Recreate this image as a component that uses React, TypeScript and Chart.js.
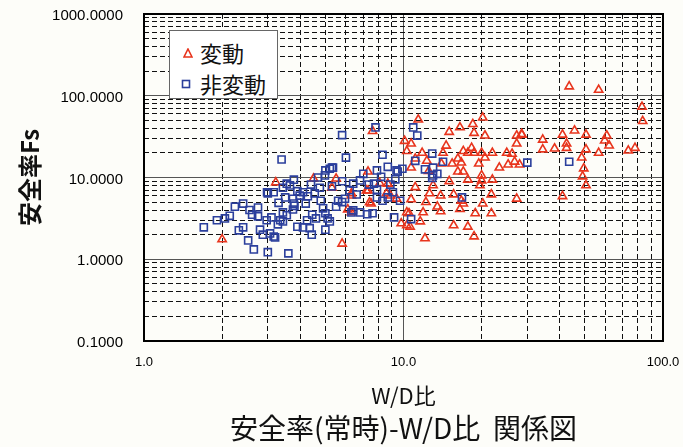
import React, { useEffect, useRef } from 'react';
import { Chart, registerables } from 'chart.js';

Chart.register(...registerables);

const seriesNames = ['変動', '非変動'];

// 変動 (red triangles)
const redX = [2.0, 3.22, 4.5, 5.5, 7.3, 6.3, 5.8, 8.7, 9.8, 10.3, 6.1, 7.4, 8.6, 7.2, 7.6, 11.4, 10.1, 10.7, 15, 16.5, 18.5, 20.2, 18.7, 20.6, 27.3, 28.5, 27.3, 11.8, 12.3, 14.2, 14.6, 17, 17.7, 18.3, 18.7, 20, 20.6, 22, 25, 26.2, 26.8, 28, 25.3, 23.4, 19.5, 16.7, 16.2, 15.4, 16.2, 17, 17.7, 20, 20, 22, 19.7, 14, 11.1, 10.7, 11.1, 12.6, 13.9, 15.6, 10.7, 12.2, 13.5, 13.9, 16.5, 17, 16.7, 18.9, 20.2, 21.8, 21.8, 27.3, 10.5, 11.9, 11.6, 10.6, 15.6, 17.7, 18.7, 12.1, 43.5, 56.5, 83, 83.5, 28.6, 34.4, 34.4, 38.2, 41, 42.5, 42.5, 45.6, 50.5, 50.5, 56.5, 48.6, 49.5, 49, 50.5, 60.7, 59.6, 62, 73.5, 78, 41, 10.3, 6.3, 6.3, 7.3, 7.5, 8.9, 9.4, 10.3, 5.3, 8.1, 12.5, 15.0, 13.0];
const redY = [1.75, 8.7, 9.7, 9.7, 11.8, 6.4, 1.55, 8.4, 2.75, 2.6, 4.06, 4.96, 6.4, 6.9, 37, 51, 28, 26, 36, 41, 45, 54, 35, 32.6, 32.6, 34, 26, 20, 16, 20, 24.5, 21, 20, 23, 20, 20, 17.5, 20, 20, 19.5, 15.6, 14.4, 14.4, 13.2, 14.8, 15.2, 17, 14.8, 11.8, 11.8, 9.4, 10.6, 9.2, 9.4, 8, 14.8, 17, 13.2, 7.6, 6.4, 6.0, 6.2, 5.4, 5.0, 4.4, 3.85, 4.1, 4.8, 5.2, 3.65, 4.8, 6.2, 3.65, 5.5, 3.65, 3.74, 2.9, 2.5, 2.6, 2.5, 1.9, 1.8, 130, 118, 73, 49, 33.4, 29, 22, 22.6, 33.4, 26, 23, 37.5, 33.4, 22, 20, 17.5, 12.9, 10.3, 8, 32.6, 28.3, 24.6, 21.3, 23, 5.9, 21, 6, 3.75, 6.9, 4.8, 6.0, 5.5, 3.74, 7.5, 8.5, 12.0, 9.0, 8.0];

// 非変動 (blue squares)
const blueX = [1.70, 1.91, 2.05, 2.14, 2.24, 2.41, 2.75, 2.61, 2.75, 2.32, 2.41, 2.52, 2.65, 3.0, 3.6, 2.8, 2.87, 3.06, 3.16, 3.1, 3.28, 3.43, 3.43, 3.55, 3.75, 3.78, 3.75, 3.5, 3.0, 3.16, 3.43, 3.55, 3.78, 3.9, 3.98, 4.1, 4.28, 4.55, 4.76, 4.68, 4.98, 5.2, 5.35, 5.3, 4.9, 5.0, 5.1, 5.2, 4.6, 4.25, 3.9, 4.1, 4.35, 4.43, 5.0, 5.8, 5.6, 5.95, 6.2, 6.4, 6.8, 7.0, 7.35, 7.7, 7.9, 7.9, 7.6, 7.25, 6.8, 6.4, 6.3, 7.9, 8.7, 9.4, 9.9, 8.9, 9.1, 9.2, 9.7, 8.3, 8.7, 2.97, 3.39, 6.0, 8.3, 5.8, 7.8, 10.9, 11.3, 12.9, 11.1, 14.2, 12.1, 13.0, 13.5, 12.9, 13.0, 16.8, 10.7, 30, 43.5, 2.98, 3.65, 3.8, 3.35, 3.2, 5.3, 5.0, 9.5, 3.3, 4.4, 4.2, 5.5, 6.6, 4.8, 2.55, 9.3, 8.2, 5.8, 4.45];
const blueY = [2.46, 3.0, 3.16, 3.4, 4.4, 4.8, 4.3, 3.5, 3.35, 2.26, 2.46, 1.7, 1.32, 1.22, 1.18, 2.3, 2.0, 2.07, 1.9, 3.25, 2.67, 2.9, 3.74, 3.45, 4.06, 4.8, 5.5, 5.7, 6.4, 6.6, 7.5, 8.4, 9.4, 6.8, 6.0, 6.6, 5.9, 6.4, 7.5, 10, 10.6, 12.8, 13.2, 7.8, 4.2, 3.65, 3.16, 2.9, 3.16, 3.0, 2.5, 2.45, 2.4, 2.0, 2.3, 5.0, 5.2, 5.5, 7.0, 8.4, 9.2, 11.1, 8.2, 8.4, 7.1, 5.7, 3.65, 3.55, 3.74, 3.96, 3.74, 12.2, 13.5, 12.2, 12.8, 8.2, 6.6, 3.25, 5.2, 5.2, 5.7, 3.0, 16.6, 17.5, 19, 33, 41, 41, 32.6, 19.6, 16, 15.6, 12.6, 13.2, 11.1, 9.9, 10.6, 5.7, 3.1, 15.2, 15.6, 6.6, 8, 4.5, 3.0, 1.85, 13.2, 12.2, 11.8, 4.9, 8.2, 4.8, 4.4, 6.2, 5.2, 4.0, 9.5, 10.2, 9.0, 3.5];

const xMajorTicks = [1, 10, 100];
const xTickLabels = ['1.0', '10.0', '100.0'];
const xMinorTicks = [2, 3, 4, 5, 6, 7, 8, 9, 20, 30, 40, 50, 60, 70, 80, 90];

const yMajorTicks = [0.1, 1, 10, 100, 1000];
const yTickLabels = ['0.1000', '1.0000', '10.0000', '100.0000', '1000.0000'];
const yMinorTicks = [0.2, 0.3, 0.4, 0.5, 0.6, 0.7, 0.8, 0.9, 2, 3, 4, 5, 6, 7, 8, 9, 20, 30, 40, 50, 60, 70, 80, 90, 200, 300, 400, 500, 600, 700, 800, 900];

const xTitle = 'W/D比';
const yTitle = '安全率Fs';
const chartTitle = '安全率(常時)-W/D比  関係図';

const RED = '#e8341c';
const BLUE = '#2b3f9c';
const JP = '"Noto Sans CJK JP", "Noto Sans", sans-serif';
const LAT = '"Liberation Sans", Arial, sans-serif';

const buildTicks = (majors: number[], minors: number[]) =>
  [...majors.map((v) => ({ value: v, major: true })), ...minors.map((v) => ({ value: v, major: false }))].sort(
    (a, b) => a.value - b.value
  );

const clearPadding = (s: any) => {
  s.paddingTop = 0;
  s.paddingBottom = 0;
  s.paddingLeft = 0;
  s.paddingRight = 0;
};

const framePlugin = {
  id: 'frame',
  beforeDatasetsDraw(chart: any) {
    const { ctx, chartArea } = chart;
    ctx.save();
    ctx.strokeStyle = '#000';
    ctx.lineWidth = 2;
    ctx.strokeRect(chartArea.left, chartArea.top, chartArea.right - chartArea.left, chartArea.bottom - chartArea.top);
    ctx.restore();
  },
};

export default function App() {
  const ref = useRef<HTMLCanvasElement>(null);

  useEffect(() => {
    if (!ref.current) return;
    const gridColor = (c: any) => (c.tick && c.tick.major ? '#555' : '#111');
    const gridDash = (c: any) => (c.tick && !c.tick.major ? [5, 3] : []);
    const chart = new Chart(ref.current, {
      type: 'scatter',
      data: {
        datasets: [
          {
            label: seriesNames[1],
            data: blueX.map((x, i) => ({ x, y: blueY[i] })),
            pointStyle: 'rect',
            pointRadius: 5,
            borderColor: BLUE,
            backgroundColor: 'rgba(255,255,255,0)',
            borderWidth: 1.6,
          },
          {
            label: seriesNames[0],
            data: redX.map((x, i) => ({ x, y: redY[i] })),
            pointStyle: 'triangle',
            pointRadius: 4.8,
            borderColor: RED,
            backgroundColor: 'rgba(255,255,255,0)',
            borderWidth: 1.6,
          },
        ],
      },
      options: {
        animation: false,
        responsive: false,
        maintainAspectRatio: false,
        layout: { padding: { left: 0, right: 20, top: 14, bottom: 0 } },
        plugins: {
          legend: { display: false },
          tooltip: { enabled: false },
          title: {
            display: true,
            position: 'bottom',
            fullSize: false,
            text: chartTitle,
            color: '#111',
            font: { family: JP, size: 28, weight: 'normal' },
            padding: { top: 3, bottom: 2 },
          },
        },
        scales: {
          x: {
            type: 'logarithmic',
            min: 1,
            max: 100,
            afterBuildTicks: (s: any) => {
              s.ticks = buildTicks(xMajorTicks, xMinorTicks);
            },
            afterFit: (s: any) => {
              s.height = 67.4;
              clearPadding(s);
            },
            grid: { color: gridColor, lineWidth: 1, drawTicks: false },
            border: { display: false, dash: gridDash },
            ticks: {
              autoSkip: false,
              maxRotation: 0,
              padding: 14,
              color: '#000',
              font: { family: LAT, size: 13 },
              callback: (v: any) => {
                const i = xMajorTicks.indexOf(Number(v));
                return i >= 0 ? xTickLabels[i] : '';
              },
            },
            title: {
              display: true,
              text: xTitle,
              color: '#111',
              font: { family: JP, size: 22 },
              padding: { top: 0, bottom: 0 },
            },
          },
          y: {
            type: 'logarithmic',
            min: 0.1,
            max: 1000,
            afterBuildTicks: (s: any) => {
              s.ticks = buildTicks(yMajorTicks, yMinorTicks);
            },
            afterFit: (s: any) => {
              s.width = 144;
              clearPadding(s);
            },
            grid: { color: gridColor, lineWidth: 1, drawTicks: false },
            border: { display: false, dash: gridDash },
            ticks: {
              autoSkip: false,
              padding: 21,
              labelOffset: 2,
              color: '#000',
              font: { family: LAT, size: 15 },
              callback: (v: any) => {
                const i = yMajorTicks.indexOf(Number(v));
                return i >= 0 ? yTickLabels[i] : '';
              },
            },
            title: {
              display: true,
              text: yTitle,
              color: '#111',
              font: { family: JP, size: 24, weight: 'bold' },
              padding: { top: 15, bottom: 0 },
            },
          },
        },
      },
      plugins: [framePlugin],
    } as any);
    return () => chart.destroy();
  }, []);

  return (
    <div style={{ position: 'fixed', left: 0, top: 0, width: 683, height: 447, background: '#fdfdf9' }}>
      <canvas ref={ref} width={683} height={447} style={{ display: 'block', width: 683, height: 447 }} />
      <div
        style={{
          position: 'absolute',
          left: 169,
          top: 30,
          width: 109,
          height: 69,
          boxSizing: 'border-box',
          background: '#ffffff',
          border: '1px solid #666',
          fontFamily: JP,
          fontSize: 22,
          lineHeight: '26px',
          color: '#111',
        }}
      >
        <svg style={{ position: 'absolute', left: 13, top: 17 }} width={10} height={10}>
          <polygon points="5,1 9,9 1,9" fill="none" stroke={RED} strokeWidth={1.6} />
        </svg>
        <span style={{ position: 'absolute', left: 30, top: 8, whiteSpace: 'nowrap' }}>{seriesNames[0]}</span>
        <svg style={{ position: 'absolute', left: 11, top: 48 }} width={10} height={10}>
          <rect x={1.5} y={1.5} width={7} height={7} fill="none" stroke={BLUE} strokeWidth={1.6} />
        </svg>
        <span style={{ position: 'absolute', left: 30, top: 39, whiteSpace: 'nowrap' }}>{seriesNames[1]}</span>
      </div>
    </div>
  );
}
